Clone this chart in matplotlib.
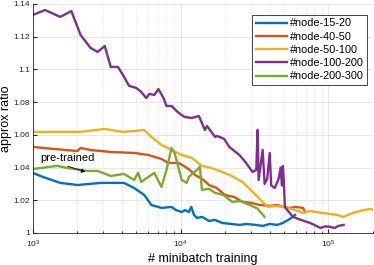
import matplotlib
matplotlib.use('Agg')
import matplotlib.pyplot as plt
from matplotlib.ticker import LogLocator, NullFormatter

plt.rcParams.update({
    'font.family': ['Liberation Sans', 'DejaVu Sans'],
    'axes.spines.top': False,
    'axes.spines.right': False,
})

# ----- data -----
x_15_20 = [1000, 1171, 1531, 2000, 2877, 4130, 4842, 5665, 6328, 7413, 8675,
           9300, 10160, 10700, 11350, 11800, 12300, 12880, 14000, 15560,
           17000, 19100, 22000, 24960, 28000, 32120, 36000, 40070, 45000,
           49190, 54930, 59430]
y_15_20 = [1.0367, 1.0342, 1.0306, 1.0293, 1.0306, 1.0306, 1.0275, 1.0232,
           1.0171, 1.0153, 1.0159, 1.0140, 1.0128, 1.0140, 1.0128, 1.0159,
           1.0110, 1.0092, 1.0098, 1.0073, 1.0080, 1.0061, 1.0055, 1.0049,
           1.0055, 1.0049, 1.0043, 1.0055, 1.0049, 1.0061, 1.0086, 1.0110]

x_40_50 = [1000, 1371, 2000, 2100, 2455, 3365, 4842, 6038, 7413, 8279, 9683,
           10500, 11530, 12470, 14000, 15560, 17500, 20000, 23000, 26180,
           30000, 34230, 40000, 45000, 49190, 55000, 60000, 67480, 69550]
y_40_50 = [1.0526, 1.0514, 1.0501, 1.0520, 1.0507, 1.0495, 1.0489, 1.0477,
           1.0452, 1.0428, 1.0428, 1.0410, 1.0385, 1.0355, 1.0330, 1.0293,
           1.0275, 1.0232, 1.0220, 1.0190, 1.0184, 1.0171, 1.0165, 1.0171,
           1.0159, 1.0153, 1.0159, 1.0153, 1.0128]

x_50_100 = [1000, 1531, 2100, 3063, 4071, 5000, 5665, 6328, 7413, 10160,
            11890, 13930, 16000, 19100, 22000, 26180, 30000, 34770, 38810,
            44000, 49190, 57000, 67480, 75000, 82740, 92000, 103200, 115000,
            126700, 140000, 155600, 172000, 194000, 200000]
y_50_100 = [1.0618, 1.0618, 1.0618, 1.0636, 1.0618, 1.0624, 1.0630, 1.0587,
            1.0538, 1.0477, 1.0459, 1.0410, 1.0398, 1.0373, 1.0350, 1.0312,
            1.0260, 1.0202, 1.0159, 1.0165, 1.0159, 1.0146, 1.0122, 1.0134,
            1.0128, 1.0122, 1.0116, 1.0110, 1.0098, 1.0116, 1.0128, 1.0140,
            1.0147, 1.0141]

x_100_200 = [1000, 1208, 1531, 1820, 2100, 2455, 2742, 3063, 3365, 3760, 4071,
             4475, 5000, 5408, 5848, 6134, 6639, 7068, 7656, 8017, 8675, 9532,
             10160, 10650, 11890, 13280, 14590, 15070, 17100, 17660, 19720,
             21320, 24960, 27420, 30630, 32500, 33170, 33700, 35890, 37000,
             38500, 40070, 41000, 43360, 46000, 47500, 48500, 49190, 50000,
             50750, 53210, 57570, 65000, 75280, 88170, 95000, 103200, 110000,
             117000, 126700]
y_100_200 = [1.1333, 1.1363, 1.1321, 1.1357, 1.1211, 1.1131, 1.1107, 1.1143,
             1.1015, 1.1015, 1.0966, 1.0899, 1.0887, 1.0862, 1.0825, 1.0850,
             1.0844, 1.0880, 1.0825, 1.0776, 1.0776, 1.0740, 1.0721, 1.0709,
             1.0703, 1.0715, 1.0630, 1.0654, 1.0587, 1.0593, 1.0575, 1.0526,
             1.0477, 1.0434, 1.0373, 1.0385, 1.0630, 1.0324, 1.0507, 1.0300,
             1.0330, 1.0489, 1.0290, 1.0275, 1.0330, 1.0400, 1.0290, 1.0410,
             1.0300, 1.0159, 1.0135, 1.0098, 1.0080, 1.0061, 1.0031, 1.0040,
             1.0037, 1.0030, 1.0043, 1.0049]

x_200_300 = [1000, 1460, 1709, 2344, 2742, 3365, 4130, 4842, 5155, 5408, 6038,
             6639, 7413, 8017, 8675, 9099, 10160, 10990, 11350, 12880, 13490,
             13930, 15500, 17100, 19500, 22340, 25500, 29240, 33000, 37000]
y_200_300 = [1.0391, 1.0410, 1.0397, 1.0379, 1.0379, 1.0348, 1.0361, 1.0324,
             1.0367, 1.0312, 1.0342, 1.0367, 1.0281, 1.0385, 1.0520, 1.0489,
             1.0324, 1.0306, 1.0342, 1.0385, 1.0404, 1.0263, 1.0270, 1.0245,
             1.0232, 1.0190, 1.0195, 1.0171, 1.0150, 1.0098]

series = [
    ('#node-15-20', x_15_20, y_15_20, '#0072BD'),
    ('#node-40-50', x_40_50, y_40_50, '#D95319'),
    ('#node-50-100', x_50_100, y_50_100, '#EDB120'),
    ('#node-100-200', x_100_200, y_100_200, '#7E2F8E'),
    ('#node-200-300', x_200_300, y_200_300, '#77AC30'),
]

fig = plt.figure(figsize=(3.74, 2.65), dpi=100)
ax = fig.add_axes([0.088, 0.121, 0.909, 0.864])

for label, xs, ys, color in series:
    ax.plot(xs, ys, color=color, linewidth=1.7, label=label)

ax.set_xscale('log')
ax.set_xlim(1e3, 2e5)
ax.set_ylim(1.0, 1.14)
ax.set_yticks([1, 1.02, 1.04, 1.06, 1.08, 1.1, 1.12, 1.14])
ax.set_yticklabels(['1', '1.02', '1.04', '1.06', '1.08', '1.1', '1.12', '1.14'])
ax.xaxis.set_major_locator(LogLocator(base=10, numticks=10))
ax.xaxis.set_minor_locator(LogLocator(base=10, subs=range(2, 10), numticks=20))
ax.xaxis.set_minor_formatter(NullFormatter())

ax.grid(True, which='major', color='#e3e3e3', linewidth=0.6)
ax.grid(True, which='minor', axis='x', color='#d8d8d8', linewidth=0.6,
        linestyle=':')
ax.set_axisbelow(True)
ax.tick_params(which='both', direction='in', labelsize=6, colors='#262626',
               length=3, pad=2)
ax.tick_params(axis='x', which='major', pad=4)
ax.tick_params(which='minor', length=1.5)
for sp in ('left', 'bottom'):
    ax.spines[sp].set_color('#262626')
    ax.spines[sp].set_linewidth(0.6)

ax.set_xlabel('# minibatch training', fontsize=9, labelpad=2)
ax.set_ylabel('approx ratio', fontsize=9, labelpad=1)

ax.annotate('pre-trained', xy=(2270, 1.0373), xytext=(1117, 1.0425),
            fontsize=8, ha='left', va='bottom',
            arrowprops=dict(arrowstyle='-|>', color='black', lw=0.6,
                            mutation_scale=6, shrinkA=0, shrinkB=0,
                            relpos=(0.35, 0.0)))

leg = ax.legend(loc='upper right', bbox_to_anchor=(1.0, 0.977), fontsize=7.8,
                handlelength=2.8, handletextpad=0.3, borderpad=0.35,
                labelspacing=0.3, fancybox=False, framealpha=1)
leg.get_frame().set_edgecolor('#262626')
leg.get_frame().set_linewidth(0.6)

fig.savefig('out.png', dpi=100)
